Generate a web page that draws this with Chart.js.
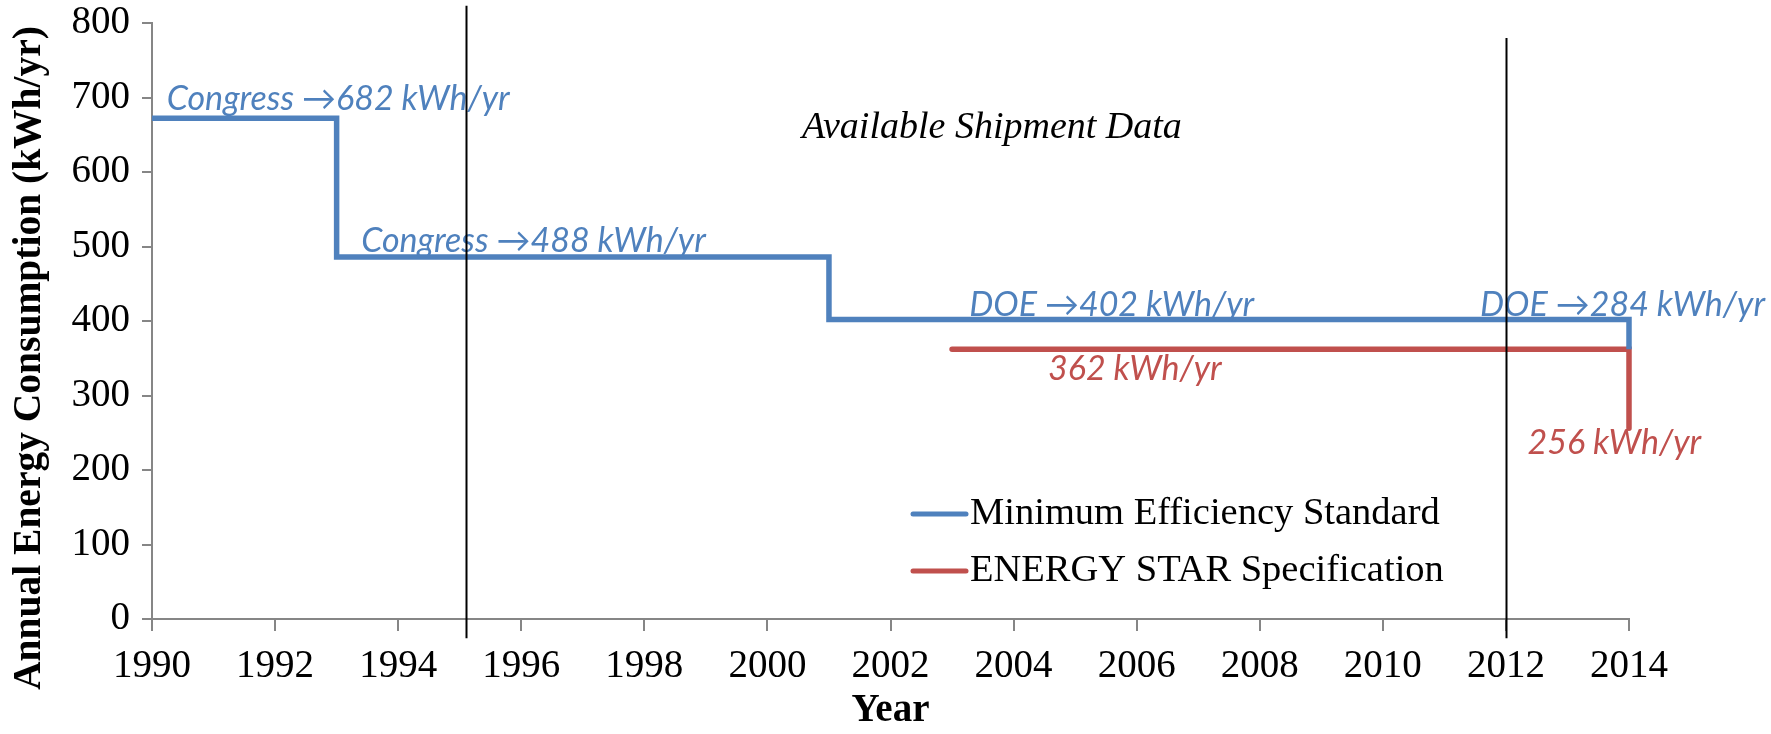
<!DOCTYPE html>
<html>
<head>
<meta charset="utf-8">
<script src="https://cdn.jsdelivr.net/npm/chart.js@4.4.1/dist/chart.umd.min.js"></script>
<style>
html,body{margin:0;padding:0;background:#fff;}
#wrap{width:1771px;height:734px;}
</style>
</head>
<body>
<div id="wrap"><canvas id="c" width="1771" height="734"></canvas></div>
<script>
// ---- data ----
const stdYears = [1990, 1993, 2001, 2014];
const stdValues = [672, 486, 402, 362];
const starYears = [2003, 2014];
const starValues = [362, 256];
const shipmentYears = [1995.1, 2012];
const shipmentTop = [823, 780];
const shipmentBottom = -26;
const seriesNames = ['Minimum Efficiency Standard', 'ENERGY STAR Specification'];
const annoTexts = ['Congress \u2192682 kWh/yr', 'Congress \u2192488 kWh/yr', 'DOE \u2192402 kWh/yr', 'DOE \u2192284 kWh/yr', '362 kWh/yr', '256 kWh/yr'];
const shipmentLabel = 'Available Shipment Data';
const xTitle = 'Year';
const yTitle = 'Annual Energy Consumption (kWh/yr)';

// ---- styles / positions ----
const BLUE = '#4F81BD', RED = '#C0504D', AXIS = '#868686';
const annoPos = [
  {x: 1990.24, y: 698, c: BLUE},
  {x: 1993.4, y: 507, c: BLUE},
  {x: 2003.28, y: 421, c: BLUE},
  {x: 2011.58, y: 421, c: BLUE},
  {x: 2004.56, y: 335, c: RED},
  {x: 2012.35, y: 236, c: RED}
];
const shipPos = {x: 2000.56, y: 659};

const pts = (xs, ys) => xs.map((x, i) => ({x: x, y: ys[i]}));

const overlay = {
  id: 'overlay',
  afterDatasetsDraw(chart) {
    const ctx = chart.ctx, xs = chart.scales.x, ys = chart.scales.y;
    ctx.save();
    // annotations
    ctx.textBaseline = 'middle';
    ctx.textAlign = 'left';
    ctx.font = 'italic 34px Lato';
    annoTexts.forEach((t, i) => {
      ctx.fillStyle = annoPos[i].c;
      ctx.fillText(t, xs.getPixelForValue(annoPos[i].x), ys.getPixelForValue(annoPos[i].y));
    });
    ctx.font = 'italic 38px "Liberation Serif"';
    ctx.fillStyle = '#000';
    ctx.fillText(shipmentLabel, xs.getPixelForValue(shipPos.x), ys.getPixelForValue(shipPos.y));
    // shipment bounds
    ctx.strokeStyle = '#000';
    ctx.lineWidth = 2;
    shipmentYears.forEach((yr, i) => {
      const px = Math.round(xs.getPixelForValue(yr)) + 0.5;
      ctx.beginPath();
      ctx.moveTo(px, ys.getPixelForValue(shipmentTop[i]));
      ctx.lineTo(px, ys.getPixelForValue(shipmentBottom));
      ctx.stroke();
    });
    // legend
    const lx = 913, lw = 53, rows = [514, 571];
    ctx.font = '38.5px "Liberation Serif"';
    chart.data.datasets.forEach((ds, i) => {
      ctx.strokeStyle = ds.borderColor;
      ctx.lineWidth = 5;
      ctx.lineCap = 'round';
      ctx.beginPath();
      ctx.moveTo(lx, rows[i]);
      ctx.lineTo(lx + lw, rows[i]);
      ctx.stroke();
      ctx.fillStyle = '#000';
      ctx.fillText(ds.label, lx + lw + 4, rows[i]);
    });
    // y title
    ctx.font = 'bold 39.5px "Liberation Serif"';
    ctx.translate(30, 358);
    ctx.rotate(-Math.PI / 2);
    ctx.textAlign = 'center';
    ctx.fillText(yTitle, 0, 0);
    ctx.restore();
  }
};

new Chart(document.getElementById('c'), {
  type: 'line',
  data: {
    datasets: [
      {label: seriesNames[0], data: pts(stdYears, stdValues), borderColor: BLUE, borderWidth: 5.5, stepped: 'before', pointRadius: 0, fill: false, clip: false, borderJoinStyle: 'miter', borderCapStyle: 'butt'},
      {label: seriesNames[1], data: pts(starYears, starValues), borderColor: RED, borderWidth: 5.5, stepped: 'before', pointRadius: 0, fill: false, clip: false, borderJoinStyle: 'miter', borderCapStyle: 'round'}
    ]
  },
  options: {
    responsive: false,
    animation: false,
    events: [],
    layout: {padding: {top: 23, right: 142, left: 0, bottom: 0}},
    plugins: {legend: {display: false}, tooltip: {enabled: false}},
    scales: {
      x: {
        type: 'linear', min: 1990, max: 2014,
        ticks: {stepSize: 2, color: '#000', font: {family: 'Liberation Serif', size: 39}, padding: 12, callback: v => String(v)},
        grid: {display: true, drawOnChartArea: false, drawTicks: true, tickLength: 12, color: AXIS, lineWidth: 2},
        border: {display: true, color: AXIS, width: 2},
        title: {display: true, text: xTitle, color: '#000', font: {family: 'Liberation Serif', size: 39, weight: 'bold'}, padding: {top: 0, bottom: 0}},
        afterFit: s => { s.height = 115; s.paddingLeft = 0; s.paddingRight = 0; }
      },
      y: {
        min: 0, max: 800,
        ticks: {stepSize: 100, color: '#000', font: {family: 'Liberation Serif', size: 39, lineHeight: 1}, padding: 12},
        grid: {display: true, drawOnChartArea: false, drawTicks: true, tickLength: 10, color: AXIS, lineWidth: 2},
        border: {display: true, color: AXIS, width: 2},
        afterFit: s => { s.width = 152; s.paddingTop = 0; s.paddingBottom = 0; }
      }
    }
  },
  plugins: [overlay]
});
</script>
</body>
</html>
